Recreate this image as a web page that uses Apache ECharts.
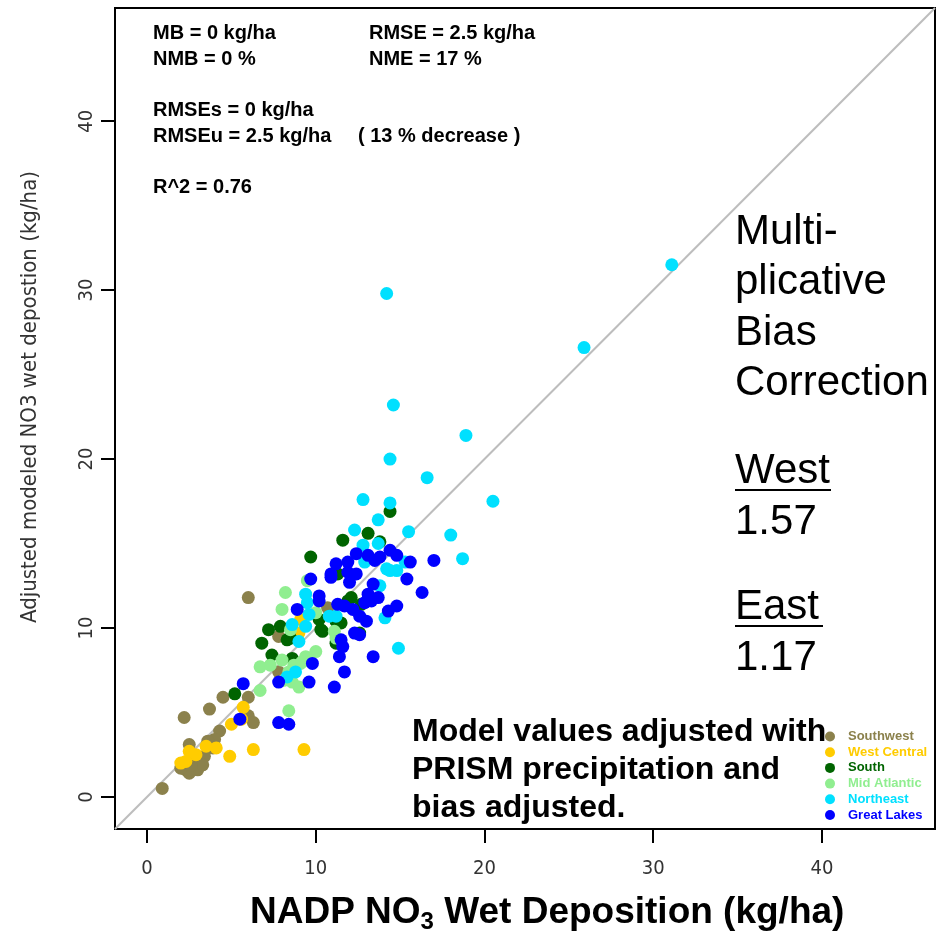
<!DOCTYPE html>
<html>
<head>
<meta charset="utf-8">
<script src="https://cdn.jsdelivr.net/npm/echarts@6/dist/echarts.min.js"></script>
<style>
  html, body { margin: 0; padding: 0; background: #fff; }
  #chart { width: 942px; height: 935px; }
</style>
</head>
<body>
<div id="chart"></div>
<script>
// NADP observed vs adjusted modeled NO3 wet deposition, kg/ha, by region
const southwest = [
  [0.9,0.5],[2.2,4.7],[3.7,5.2],[4.5,5.9],[6.0,5.9],[6.0,4.8],[6.3,4.4],
  [4.3,3.9],[4.0,3.4],[3.6,3.3],[2.5,3.1],[3.9,2.9],[3.4,2.4],[2.8,2.1],
  [2.2,2.0],[2.3,1.6],[3.0,1.6],[3.3,1.9],[2.5,1.4],[2.0,1.7],[2.6,1.9],
  [6.0,11.8],[10.7,11.2],[7.8,9.5],[7.8,7.4]
];
const westCentral = [
  [9.1,10.5],[9.0,9.7],[5.7,5.3],[5.6,4.6],[5.0,4.3],[4.1,2.9],[3.5,3.0],
  [2.9,2.5],[2.5,2.7],[4.9,2.4],[6.3,2.8],[9.3,2.8],[2.3,2.1],[2.0,2.0]
];
const south = [
  [14.4,16.9],[13.1,15.6],[11.6,15.2],[9.7,14.2],[11.3,13.2],[13.8,15.1],
  [11.9,11.6],[12.7,11.4],[12.1,11.8],[12.6,9.7],[11.5,10.3],[11.2,9.1],
  [10.2,10.5],[10.4,9.8],[11.2,10.4],[10.3,9.9],[7.2,9.9],[7.9,10.1],
  [6.8,9.1],[8.3,9.3],[7.4,8.4],[8.6,8.2],[8.5,9.4],[5.2,6.1]
];
const midAtlantic = [
  [9.5,12.8],[8.2,12.1],[8.0,11.1],[10.0,10.9],[8.5,9.9],[11.1,9.8],
  [11.2,9.4],[10.0,8.6],[9.4,8.3],[9.1,7.9],[8.7,7.8],[8.4,7.4],[6.7,7.7],
  [7.3,7.8],[8.0,8.1],[9.2,8.0],[8.1,6.9],[8.6,6.8],[9.0,6.5],[6.7,6.3],
  [8.4,5.1]
];
const northeast = [
  [31.1,31.5],[25.9,26.6],[14.2,29.8],[14.6,23.2],[18.9,21.4],[14.4,20.0],
  [16.6,18.9],[12.8,17.6],[20.5,17.5],[14.4,17.4],[13.7,16.4],[12.3,15.8],
  [15.5,15.7],[18.0,15.5],[18.7,14.1],[12.8,14.9],[13.7,15.0],[12.9,13.9],
  [15.3,13.9],[14.4,13.4],[14.8,13.4],[14.2,13.5],[13.8,12.5],[14.1,10.6],
  [14.9,8.8],[9.4,12.0],[9.5,11.5],[9.6,10.8],[8.6,10.2],[9.4,10.1],
  [10.8,10.7],[11.2,10.7],[9.0,9.2],[8.3,7.1],[8.8,7.4]
];
const greatLakes = [
  [17.0,14.0],[16.3,12.1],[15.6,13.9],[15.4,12.9],[14.8,14.3],[14.4,14.6],
  [13.8,14.2],[13.5,14.0],[13.1,14.3],[12.4,14.4],[11.9,13.9],[11.2,13.8],
  [11.9,13.3],[12.4,13.2],[10.9,13.2],[10.9,13.0],[9.7,12.9],[12.0,12.7],
  [13.4,12.6],[13.1,12.0],[12.9,11.5],[13.3,11.6],[13.7,11.8],[14.8,11.3],
  [14.3,11.0],[11.7,11.3],[12.2,11.1],[11.3,11.4],[10.2,11.9],[10.2,11.6],
  [8.9,11.1],[12.6,10.7],[13.0,10.4],[12.3,9.7],[12.6,9.6],[11.5,9.3],
  [11.6,8.9],[11.4,8.3],[13.4,8.3],[11.7,7.4],[11.1,6.5],[9.6,6.8],
  [9.8,7.9],[7.8,6.8],[5.7,6.7],[7.8,4.4],[8.4,4.3],[5.5,4.6]
];

const regionNames = ['Southwest','West Central','South','Mid Atlantic','Northeast','Great Lakes'];
const regionColors = ['#8B814C','#FFCC00','#006400','#90EE90','#00E0FF','#0000FF'];
const regionData = [southwest, westCentral, south, midAtlantic, northeast, greatLakes];

const tickValues = [0, 10, 20, 30, 40];
const axisMin = -1.9, axisMax = 46.7;

const statLines = [
  ['MB = 0 kg/ha', 'RMSE = 2.5 kg/ha'],
  ['NMB = 0 %', 'NME = 17 %'],
  ['RMSEs = 0 kg/ha', ''],
  ['RMSEu = 2.5 kg/ha', '( 13 % decrease )'],
  ['R^2 = 0.76', '']
];
const correctionLines = ['Multi-', 'plicative', 'Bias', 'Correction'];
const factorLabels = [['West', '1.57'], ['East', '1.17']];
const noteLines = ['Model values adjusted with', 'PRISM precipitation and', 'bias adjusted.'];
const yTitle = 'Adjusted modeled NO3 wet depostion (kg/ha)';

const FONT = '"Liberation Sans", Arial, sans-serif';
const NARROW = '"Liberation Sans Narrow", "DejaVu Sans Condensed", "Liberation Sans", sans-serif';

const chart = echarts.init(document.getElementById('chart'), null, { renderer: 'canvas' });

const axisCommon = {
  type: 'value', min: axisMin, max: axisMax,
  axisLine: { show: false, onZero: false },
  splitLine: { show: false },
  axisTick: { show: true, inside: false, length: 14, customValues: tickValues,
              lineStyle: { color: '#000', width: 2 } },
  axisLabel: { customValues: tickValues, color: '#333', fontFamily: NARROW, fontSize: 20 }
};

const scatterSeries = regionData.map((d, i) => ({
  name: regionNames[i], type: 'scatter', data: d, symbolSize: 13,
  itemStyle: { color: regionColors[i], opacity: 1 }, z: 3, silent: true
}));

// 1:1 reference line across the axis extent
const oneToOne = {
  type: 'line', data: [[axisMin, axisMin], [axisMax, axisMax]], symbol: 'none',
  lineStyle: { color: '#bdbdbd', width: 2 }, z: 2, silent: true, clip: true
};

// Text blocks
const graphics = [];
const statRows = [33, 59, 110, 136, 187];
statLines.forEach((pair, i) => {
  graphics.push({ type: 'text', style: { text: pair[0], x: 153, y: statRows[i], fill: '#000',
    font: 'bold 20px ' + FONT, verticalAlign: 'middle' } });
  if (pair[1]) {
    graphics.push({ type: 'text', style: { text: pair[1], x: i === 3 ? 358 : 369, y: statRows[i], fill: '#000',
      font: 'bold 20px ' + FONT, verticalAlign: 'middle' } });
  }
});
correctionLines.forEach((t, i) => {
  graphics.push({ type: 'text', style: { text: t, x: 735, y: 232 + i * 50.5, fill: '#000',
    font: '42px ' + FONT, verticalAlign: 'middle' } });
});
const factorRows = [471, 607];
factorLabels.forEach((pair, i) => {
  const y = factorRows[i];
  graphics.push({ type: 'text', style: { text: pair[0], x: 735, y: y, fill: '#000',
    font: '42px ' + FONT, verticalAlign: 'middle' } });
  graphics.push({ type: 'line', shape: { x1: 735, y1: y + 19, x2: 735 + (i === 0 ? 96 : 88), y2: y + 19 },
    style: { stroke: '#000', lineWidth: 2 } });
  graphics.push({ type: 'text', style: { text: pair[1], x: 735, y: y + 51, fill: '#000',
    font: '42px ' + FONT, verticalAlign: 'middle' } });
});
noteLines.forEach((t, i) => {
  graphics.push({ type: 'text', style: { text: t, x: 412, y: 732 + i * 38, fill: '#000',
    font: 'bold 32px ' + FONT, verticalAlign: 'middle' } });
});
// y-axis title, rotated
graphics.push({ type: 'text', x: 30, y: 397, rotation: Math.PI / 2, style: {
  text: yTitle, x: 0, y: 0, fill: '#333', font: '22px ' + NARROW,
  align: 'center', verticalAlign: 'middle' } });
// x-axis title with subscript
graphics.push({ type: 'text', style: {
  text: '{a|NADP NO}{s|3}{a| Wet Deposition (kg/ha)}', x: 250, y: 913,
  verticalAlign: 'middle',
  rich: {
    a: { font: 'bold 37px ' + FONT, fill: '#000' },
    s: { font: 'bold 24px ' + FONT, fill: '#000', padding: [18, 0, 0, 0] }
  }
} });

chart.setOption({
  animation: false,
  backgroundColor: '#fff',
  grid: { left: 115, top: 8, width: 820, height: 821, show: true,
          borderColor: '#000', borderWidth: 2, backgroundColor: 'transparent' },
  xAxis: Object.assign({}, axisCommon, {
    axisLabel: Object.assign({}, axisCommon.axisLabel, { margin: 30 })
  }),
  yAxis: Object.assign({}, axisCommon, {
    axisLabel: Object.assign({}, axisCommon.axisLabel, { rotate: 90, margin: 18 })
  }),
  legend: {
    orient: 'vertical', left: 820, top: 725, icon: 'circle',
    itemWidth: 10, itemHeight: 10, itemGap: 2.7,
    data: regionNames.map((n, i) => ({ name: n, textStyle: { color: regionColors[i] } })),
    textStyle: { fontFamily: FONT, fontWeight: 'bold', fontSize: 13, padding: [0, 0, 0, 8] },
    selectedMode: false
  },
  series: [oneToOne].concat(scatterSeries),
  graphic: graphics
});
</script>
</body>
</html>
